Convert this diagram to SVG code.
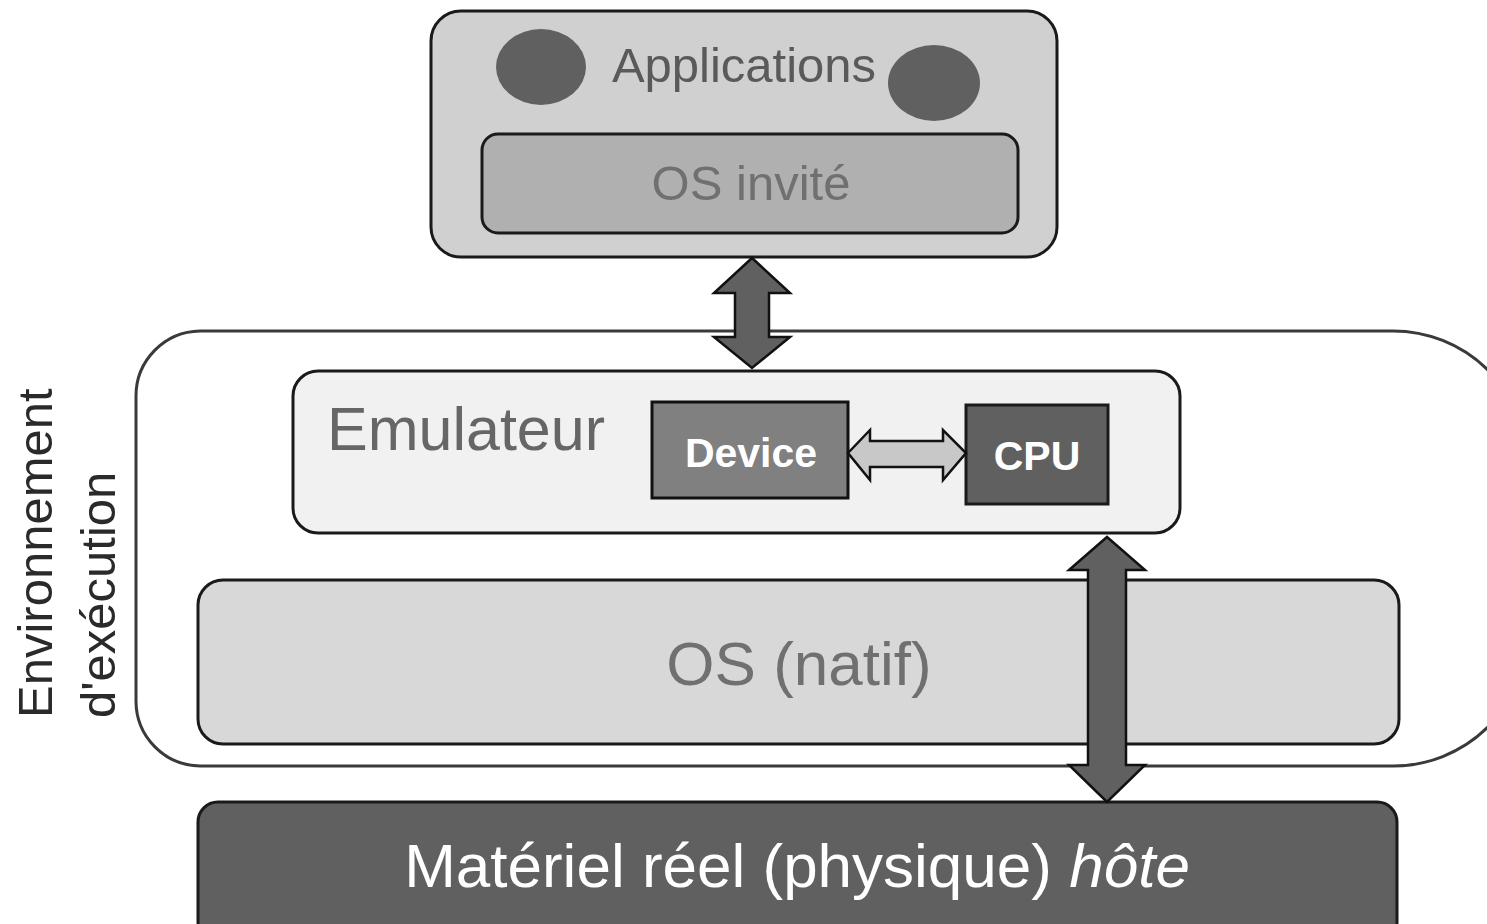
<svg xmlns="http://www.w3.org/2000/svg" width="1487" height="924" viewBox="0 0 1487 924">
<defs>
<style>
.t{font-family:"Liberation Sans",Arial,sans-serif}
.box{stroke:#1a1a1a;stroke-width:3}
.arr{stroke:#111;stroke-width:2.5;stroke-linejoin:miter}
</style>
</defs>
<rect width="1487" height="924" fill="#ffffff"/>
<g id="env">
<path d="M200,331 H1393 A135,135 0 0 1 1528,466 V631 A135,135 0 0 1 1393,766 H200 A65,65 0 0 1 136,701 V396 A65,65 0 0 1 200,331 Z" fill="#ffffff" stroke="#3a3a3a" stroke-width="3"/>
<text class="t" transform="translate(52,718) rotate(-90)" font-size="49" fill="#2a2a2a">Environnement</text>
<text class="t" transform="translate(115,718) rotate(-90)" font-size="49" fill="#2a2a2a">d'exécution</text>
</g>
<g id="guest">
<rect class="box" x="431" y="11" width="626" height="246" rx="30" fill="#d0d0d0"/>
<ellipse cx="541" cy="67" rx="45" ry="38" fill="#606060"/>
<ellipse cx="934" cy="83" rx="46" ry="38" fill="#606060"/>
<text class="t" x="744" y="82" font-size="49" fill="#5a5a5a" text-anchor="middle">Applications</text>
<rect class="box" x="482" y="134" width="536" height="99" rx="16" fill="#b0b0b0"/>
<text class="t" x="751" y="200" font-size="49" fill="#707070" text-anchor="middle">OS invité</text>
</g>
<g id="emulateur">
<rect class="box" x="293" y="371" width="887" height="162" rx="25" fill="#f1f1f1"/>
<text class="t" x="327" y="450" font-size="61" fill="#666666">Emulateur</text>
</g>
<g id="device">
<rect x="652" y="402" width="196" height="96" fill="#808080" stroke="#111" stroke-width="3"/>
<text class="t" x="751" y="467" font-size="41" font-weight="bold" fill="#ffffff" text-anchor="middle">Device</text>
</g>
<g id="cpu">
<rect x="966" y="405" width="142" height="99" fill="#606060" stroke="#1a1a1a" stroke-width="3"/>
<text class="t" x="1037" y="470" font-size="41" font-weight="bold" fill="#ffffff" text-anchor="middle">CPU</text>
</g>
<g id="osnatif">
<rect class="box" x="198" y="580" width="1201" height="164" rx="25" fill="#d8d8d8"/>
<text class="t" x="799" y="685" font-size="62" fill="#707070" text-anchor="middle">OS (natif)</text>
</g>
<g id="materiel">
<rect class="box" x="198" y="802" width="1199" height="140" rx="20" fill="#606060"/>
<text class="t" x="797" y="887" font-size="62" fill="#ffffff" text-anchor="middle">Matériel réel (physique) <tspan font-style="italic">hôte</tspan></text>
</g>
<g id="connectors">
<polygon class="arr" fill="#606060" points="752,258 790,293 769,293 769,337 790,337 752,368 714,337 735,337 735,293 714,293"/>
<polygon class="arr" fill="#c8c8c8" points="848,453 870,430 870,441 943,441 943,430 966,453 943,480 943,467 870,467 870,480"/>
<polygon class="arr" fill="#606060" points="1107,537 1145,570 1126,570 1126,765 1145,765 1107,802 1069,765 1088,765 1088,570 1069,570"/>
</g>
</svg>
